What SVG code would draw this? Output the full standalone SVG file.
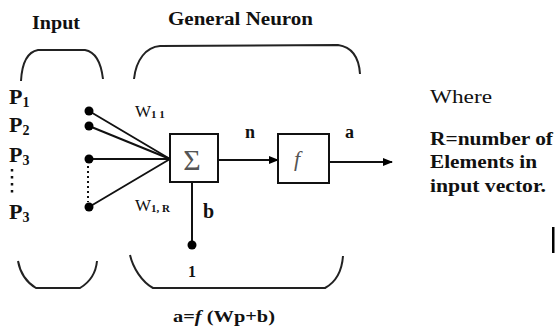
<svg xmlns="http://www.w3.org/2000/svg" width="555" height="327" viewBox="0 0 555 327">
<style>
.t{font-family:"Liberation Serif","Times New Roman",serif;fill:#111;}
.b{font-weight:bold;}
.br{fill:none;stroke:#222;stroke-width:2;}
.ln{fill:none;stroke:#111;stroke-width:2;}
.box{fill:#fff;stroke:#111;stroke-width:2;}
.dot{fill:#000;}
</style>
<defs>
<marker id="ah" markerWidth="10" markerHeight="8" refX="9" refY="4" orient="auto" markerUnits="userSpaceOnUse">
<path d="M0,0 L10,4 L0,8 Z" fill="#000"/>
</marker>
</defs>
<rect width="555" height="327" fill="#fff"/>

<text class="t b" x="32" y="29" font-size="18" textLength="48" lengthAdjust="spacingAndGlyphs">Input</text>
<text class="t b" x="168" y="25" font-size="18" textLength="145" lengthAdjust="spacingAndGlyphs">General Neuron</text>

<g id="brackets">
<path class="br" d="M21,81 C22,62 27,52 38,50 L85,50 C96,52 101,62 103,79"/>
<path class="br" d="M134,79 C136,60 146,47 160,46 L338,45 C352,47 359,58 360,74"/>
<path class="br" d="M18,261 C20,272 26,282 36,288 L80,288 C90,282 96,272 97,261"/>
<path class="br" d="M130,255 C133,268 142,282 153,288 L325,288 C336,282 342,270 343,256"/>
</g>

<g id="inputs">
<text class="t b" x="9" y="104" font-size="22">P<tspan font-size="14" dy="3">1</tspan></text>
<text class="t b" x="9" y="132" font-size="22">P<tspan font-size="14" dy="3">2</tspan></text>
<text class="t b" x="9" y="162" font-size="22">P<tspan font-size="14" dy="3">3</tspan></text>
<text class="t b" x="9" y="219" font-size="22">P<tspan font-size="14" dy="3">3</tspan></text>
<line x1="12" y1="169" x2="12" y2="196" stroke="#111" stroke-width="2.5" stroke-dasharray="2.5,4.5"/>
</g>

<g id="connectors">
<line class="ln" x1="89" y1="111" x2="170" y2="159"/>
<line class="ln" x1="89" y1="126" x2="170" y2="159"/>
<line class="ln" x1="89" y1="159" x2="170" y2="159"/>
<line class="ln" x1="89" y1="207" x2="170" y2="159"/>
<line x1="88" y1="166" x2="88" y2="202" stroke="#111" stroke-width="2" stroke-dasharray="2,3"/>
<line class="ln" x1="192" y1="182" x2="192" y2="245"/>
<line class="ln" x1="218" y1="160" x2="278" y2="160" marker-end="url(#ah)"/>
<line class="ln" x1="329" y1="162" x2="392" y2="162" marker-end="url(#ah)"/>
</g>

<g id="dots">
<circle class="dot" cx="89" cy="111" r="4.5"/>
<circle class="dot" cx="89" cy="126" r="4.5"/>
<circle class="dot" cx="89" cy="159" r="4.5"/>
<circle class="dot" cx="89" cy="207" r="4.5"/>
<circle class="dot" cx="192" cy="245" r="4.5"/>
</g>

<g id="sum">
<rect class="box" x="170" y="134" width="48" height="48"/>
<text class="t" x="192" y="170" font-size="30" text-anchor="middle" style="fill:#555">Σ</text>
</g>
<g id="transfer">
<rect class="box" x="278" y="134" width="51" height="49"/>
<text class="t" x="297" y="166" font-size="22" font-style="italic" text-anchor="middle" style="fill:#555">f</text>
</g>

<g id="labels">
<text class="t" x="135" y="117" font-size="17">W<tspan font-size="11" font-weight="bold" dy="1">1 1</tspan></text>
<text class="t" x="135" y="211" font-size="17">W<tspan font-size="11" font-weight="bold" dy="1">1, R</tspan></text>
<text class="t b" x="245" y="138" font-size="18">n</text>
<text class="t b" x="345" y="138" font-size="18">a</text>
<text class="t b" x="203" y="218" font-size="20">b</text>
<text class="t b" x="192" y="277" font-size="16" text-anchor="middle">1</text>
<text class="t b" x="173" y="322" font-size="17" textLength="102" lengthAdjust="spacingAndGlyphs">a=<tspan font-style="italic">f</tspan> (Wp+b)</text>
</g>

<g id="note">
<text class="t" x="430" y="103" font-size="19" textLength="62" lengthAdjust="spacingAndGlyphs">Where</text>
<text class="t b" x="430" y="145" font-size="19" textLength="123" lengthAdjust="spacingAndGlyphs">R=number of</text>
<text class="t b" x="430" y="168" font-size="19" textLength="107" lengthAdjust="spacingAndGlyphs">Elements in</text>
<text class="t b" x="430" y="192" font-size="19" textLength="116" lengthAdjust="spacingAndGlyphs">input vector.</text>
</g>
<rect x="552" y="227" width="2.5" height="26" fill="#000"/>
</svg>
